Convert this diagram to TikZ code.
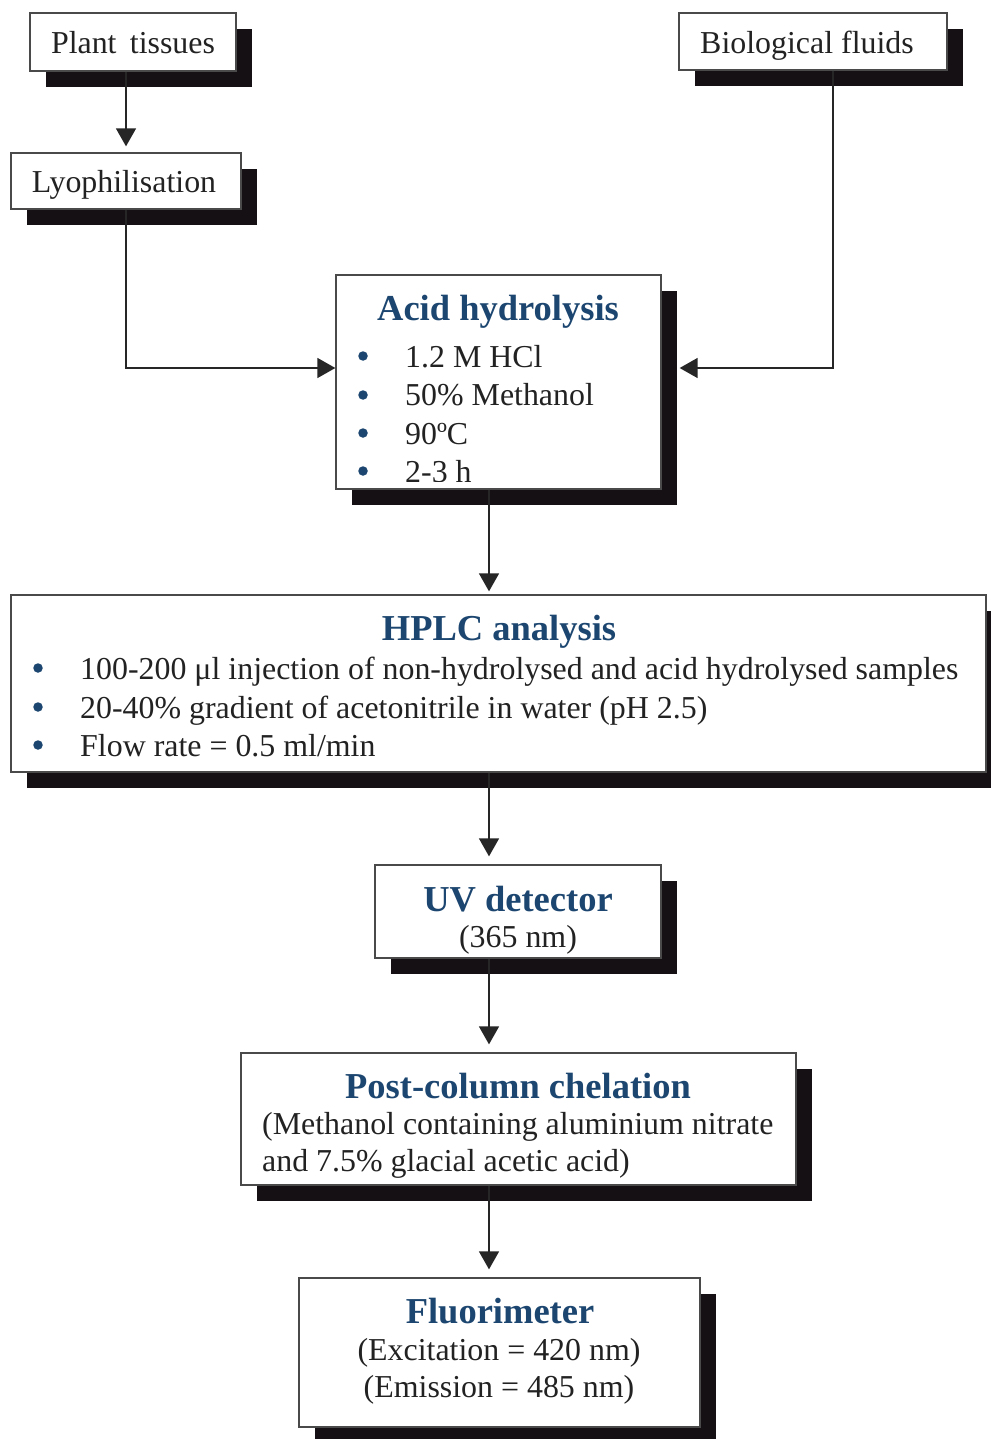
\documentclass[tikz,border=0pt]{standalone}
\usepackage{fontspec}
\setmainfont{Liberation Serif}
\usetikzlibrary{arrows.meta,shadows}
\definecolor{ttl}{HTML}{1C4670}
\definecolor{shd}{HTML}{141014}
\definecolor{edge}{HTML}{4A4A4A}
\definecolor{txt}{HTML}{222222}
\tikzset{
  box/.style={draw=edge, line width=1.3pt, fill=white, inner sep=0pt,
    drop shadow={shadow xshift=16pt, shadow yshift=-16pt, fill=shd, opacity=1}},
  body/.style={font=\fontsize{31.9}{37}\selectfont, text=txt, inner sep=0pt},
  ttlsty/.style={font=\fontsize{36.5}{42}\selectfont\bfseries, text=ttl, inner sep=0pt},
  conn/.style={line width=1.4pt, draw=black!85, -{Triangle[width=20pt,length=18pt]}},
  bul/.style={circle, fill=ttl, minimum size=9.5pt, inner sep=0pt},
}
\begin{document}
\begin{tikzpicture}[x=1pt,y=-1pt]
\useasboundingbox (0,0) rectangle (990,1439);
\fill[white] (0,0) rectangle (990,1439);

% boxes
\node[box, minimum width=206pt, minimum height=58pt] (plant) at (133,42) {};
\node[box, minimum width=230pt, minimum height=56pt] (lyo) at (126,181) {};
\node[box, minimum width=268pt, minimum height=57pt] (bio) at (813,41.5) {};
\node[box, minimum width=325pt, minimum height=214pt] (acid) at (498.5,382) {};
\node[box, minimum width=975pt, minimum height=177pt] (hplc) at (498.5,683.5) {};
\node[box, minimum width=286pt, minimum height=93pt] (uv) at (518,911.5) {};
\node[box, minimum width=555pt, minimum height=132pt] (post) at (518.5,1119) {};
\node[box, minimum width=401pt, minimum height=149pt] (fluor) at (499.5,1352.5) {};

% simple labels
\node[body, anchor=base] (plantt) at (133,54) {Plant\,\ tissues};
\node[body, anchor=base] (lyot) at (124,193) {Lyophilisation};
\node[body, anchor=base] (biot) at (807,54) {Biological fluids};

% acid hydrolysis content
\node[ttlsty, anchor=base] (acidt) at (498,320) {Acid hydrolysis};
\begin{scope}
\clip (337,276) rectangle (660,481);
\node[bul] (ab1) at (363,356) {};
\node[bul] (ab2) at (363,395) {};
\node[bul] (ab3) at (363,433) {};
\node[bul] (ab4) at (363,471) {};
\node[body, anchor=base west] (a1) at (405,367) {1.2 M HCl};
\node[body, anchor=base west] (a2) at (405,405.5) {50\% Methanol};
\node[body, anchor=base west] (a3) at (405,444) {90ºC};
\node[body, anchor=base west] (a4) at (405,482.5) {2-3 h};
\end{scope}

% HPLC content
\node[ttlsty, anchor=base] (hplct) at (499,640) {HPLC analysis};
\node[bul] (hb1) at (38,668) {};
\node[bul] (hb2) at (38,707) {};
\node[bul] (hb3) at (38,745) {};
\node[body, anchor=base west] (h1) at (80,679) {100-200 μl injection of non-hydrolysed and acid hydrolysed samples};
\node[body, anchor=base west] (h2) at (80,718) {20-40\% gradient of acetonitrile in water (pH 2.5)};
\node[body, anchor=base west] (h3) at (80,756) {Flow rate = 0.5 ml/min};

% UV detector
\node[ttlsty, anchor=base] (uvt) at (518,911) {UV detector};
\node[body, anchor=base] (uv1) at (518,947) {(365 nm)};

% Post-column chelation
\node[ttlsty, anchor=base] (postt) at (518,1098) {Post-column chelation};
\node[body, anchor=base west] (p1) at (262,1134) {(Methanol containing aluminium nitrate};
\node[body, anchor=base west] (p2) at (262,1171) {and 7.5\% glacial acetic acid)};

% Fluorimeter
\node[ttlsty, anchor=base] (fluort) at (500,1323) {Fluorimeter};
\node[body, anchor=base] (f1) at (499,1360) {(Excitation = 420 nm)};
\node[body, anchor=base] (f2) at (499,1397) {(Emission = 485 nm)};

% connectors
\draw[conn, shorten >=6pt] (plant.south -| lyo.north) -- (lyo.north);
\draw[conn] (lyo.south) |- ([yshift=14pt]acid.west);
\draw[conn] ([xshift=20pt]bio.south) |- ([xshift=18pt,yshift=14pt]acid.east);
\draw[conn, shorten >=3pt] ([xshift=-9.5pt]acid.south) -- ([xshift=-9.5pt]hplc.north);
\draw[conn, shorten >=8pt] ([xshift=-9.5pt]hplc.south) -- ([xshift=-9.5pt]hplc.south |- uv.north);
\draw[conn, shorten >=8pt] ([xshift=-29pt]uv.south) -- ([xshift=-29pt]uv.south |- post.north);
\draw[conn, shorten >=8pt] ([xshift=-29.5pt]post.south) -- ([xshift=-29.5pt]post.south |- fluor.north);
\end{tikzpicture}
\end{document}
